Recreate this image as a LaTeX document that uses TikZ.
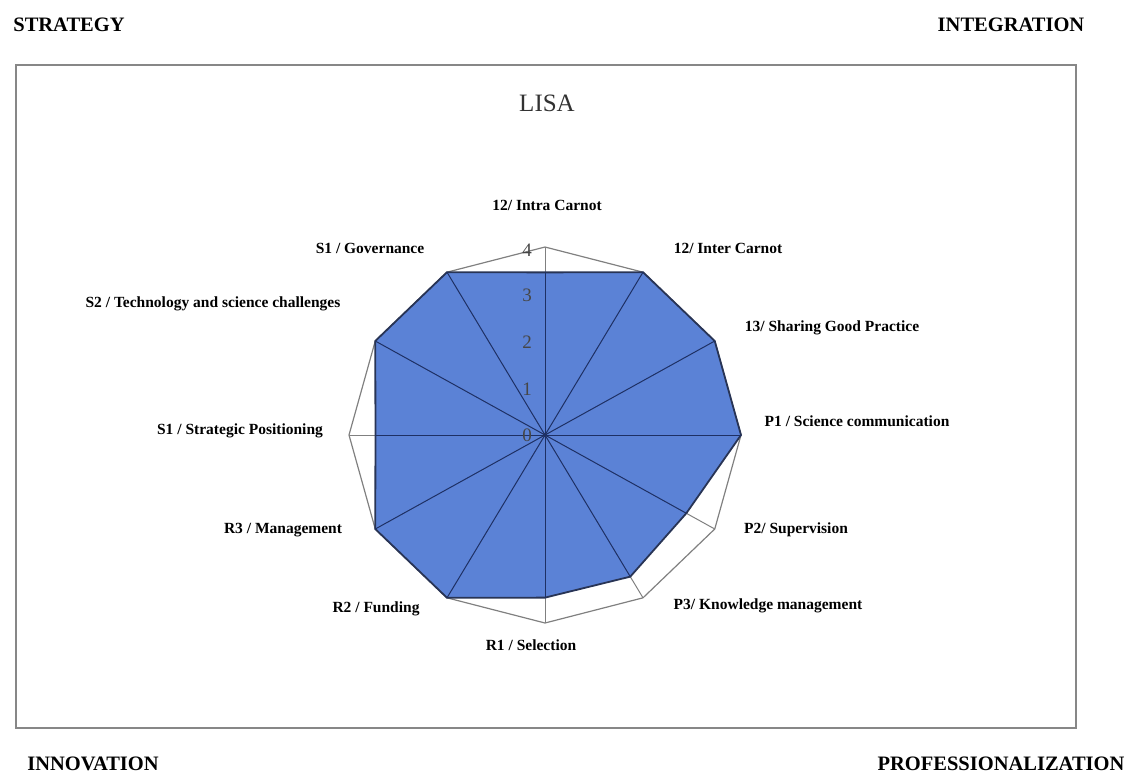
\documentclass[tikz,border=0pt]{standalone}
\usepackage{fontspec}
\setmainfont{Liberation Serif}
\definecolor{fillblue}{RGB}{91,130,214}
\definecolor{edgenavy}{RGB}{40,52,85}
\definecolor{spokenavy}{RGB}{30,48,100}
\definecolor{gridgray}{RGB}{128,128,128}
\definecolor{boxgray}{RGB}{135,135,135}
\definecolor{tickgray}{RGB}{70,70,70}
\definecolor{titlegray}{RGB}{50,50,50}
\begin{document}
\begin{tikzpicture}[x=1pt,y=-1pt,
  axlabel/.style={font=\fontsize{15.5}{18}\selectfont\bfseries, inner sep=0pt},
  cornerlabel/.style={font=\fontsize{20.5}{24}\selectfont\bfseries, inner sep=0pt},
  ticklabel/.style={font=\fontsize{19}{22}\selectfont, text=tickgray, anchor=east, inner sep=0pt},
  titlelabel/.style={font=\fontsize{25}{28}\selectfont, text=titlegray, inner sep=0pt},
  frame/.style={draw=boxgray, line width=1.5pt},
  outerpoly/.style={draw=gridgray, line width=1.2pt, line join=miter},
  axisline/.style={draw=gridgray, line width=1pt},
  datapoly/.style={fill=fillblue, draw=edgenavy, line width=1.8pt, line join=round},
  spoke/.style={draw=spokenavy, line width=1pt}]
\useasboundingbox (0,0) rectangle (1131,774);

% frame
\draw[frame] (16,65) rectangle (1076,728);

% title
\node[titlelabel] (title) at (547,103) {LISA};

% corner labels
\node[cornerlabel] (strategy) at (69,25) {STRATEGY};
\node[cornerlabel] (integration) at (1011,25) {INTEGRATION};
\node[cornerlabel] (innovation) at (93,764) {INNOVATION};
\node[cornerlabel] (profession) at (1001,764) {PROFESSIONALIZATION};

% geometry
\foreach \v [count=\i from 0] in {3.46,4,4,4,3.33,3.48,3.46,4,4,3.46,4,4} {
  \coordinate (d\i) at ({545+49*\v*cos(90-30*\i)}, {435-47*\v*sin(90-30*\i)});
  \coordinate (o\i) at ({545+196*cos(90-30*\i)}, {435-188*sin(90-30*\i)});
}
\coordinate (ctr) at (545,435);

% outer polygon and axes
\draw[outerpoly] (o0) -- (o1) -- (o2) -- (o3) -- (o4) -- (o5) -- (o6) -- (o7) -- (o8) -- (o9) -- (o10) -- (o11) -- cycle;
\foreach \i in {0,...,11} { \draw[axisline] (ctr) -- (o\i); }

% data polygon
\filldraw[datapoly] (d0) -- (d1) -- (d2) -- (d3) -- (d4) -- (d5) -- (d6) -- (d7) -- (d8) -- (d9) -- (d10) -- (d11) -- cycle;
\foreach \i in {0,...,11} { \draw[spoke] (ctr) -- (d\i); }
\fill[spokenavy] (ctr) circle (2pt);

% tick labels
\node[ticklabel] (t0) at (532,435) {0};
\node[ticklabel] (t1) at (532,389) {1};
\node[ticklabel] (t2) at (532,342) {2};
\node[ticklabel] (t3) at (532,295) {3};
\node[ticklabel] (t4) at (532,250) {4};

% axis labels
\node[axlabel] (l0) at (547,205) {12/ Intra Carnot};
\node[axlabel] (l1) at (728,248) {12/ Inter Carnot};
\node[axlabel] (l2) at (832,328) {13/ Sharing Good Practice};
\node[axlabel] (l3) at (857,421) {P1 / Science communication};
\node[axlabel] (l4) at (796,530) {P2/ Supervision};
\node[axlabel] (l5) at (768,606) {P3/ Knowledge management};
\node[axlabel] (l6) at (531,645) {R1 / Selection};
\node[axlabel] (l7) at (376,609) {R2 / Funding};
\node[axlabel] (l8) at (283,530) {R3 / Management};
\node[axlabel] (l9) at (240,431) {S1 / Strategic Positioning};
\node[axlabel] (l10) at (213,304) {S2 / Technology and science challenges};
\node[axlabel] (l11) at (370,248) {S1 / Governance};
\end{tikzpicture}
\end{document}
